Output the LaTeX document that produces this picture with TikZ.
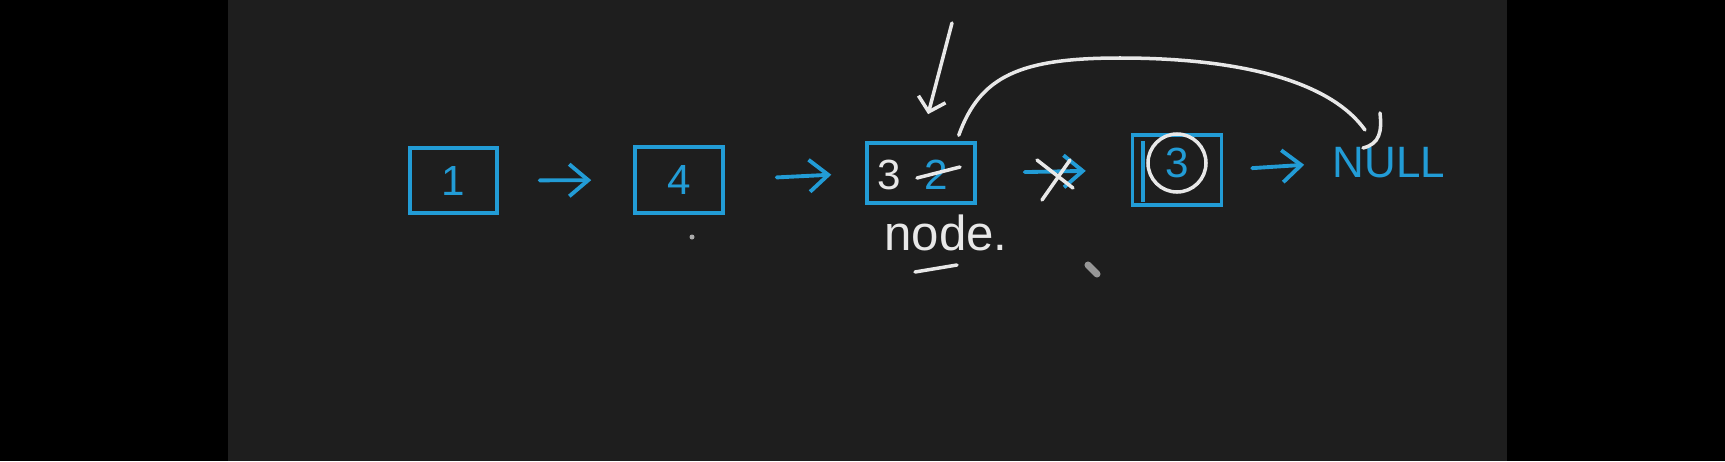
\documentclass[tikz,border=0pt]{standalone}
\usepackage{fontspec}
\setmainfont{Liberation Sans}
\usepackage{tikz}
\usetikzlibrary{arrows.meta}
\usetikzlibrary{positioning}
\usetikzlibrary{calc}

\definecolor{inkblue}{RGB}{34,156,214}
\definecolor{inkwhite}{RGB}{232,232,232}
\definecolor{board}{RGB}{30,30,30}

\tikzset{
  cell/.style={draw=inkblue, line width=1pt, rectangle, inner sep=0pt},
  val/.style={text=inkblue, font=\fontsize{12}{14}\selectfont},
  link/.style={draw=inkblue, line width=1.1pt, line cap=round,
    -{Straight Barb[length=1.9mm,width=3.2mm,line width=1.1pt]}},
  chalk/.style={draw=inkwhite, line width=1pt, line cap=round},
}

\begin{document}
\begin{tikzpicture}
\useasboundingbox (0,0) rectangle (17.25,4.61);
\fill[black] (0,0) rectangle (17.25,4.61);
\fill[board] (2.28,0) rectangle (15.07,4.61);

\node[cell, minimum width=0.87cm, minimum height=0.65cm] (b1) at (4.535,2.805) {};
\node[cell, minimum width=0.88cm, minimum height=0.66cm] (b4) at (6.79,2.81) {};
\node[cell, minimum width=1.08cm, minimum height=0.60cm] (b3) at (9.21,2.88) {};
\node[cell, minimum width=0.89cm, minimum height=0.70cm] (b5) at (11.77,2.91) {};

\node[val] (v1) at (b1) {1};
\node[val] (v4) at (b4) {4};
\node[val, text=inkwhite] (v3) at (8.89,2.86) {3};
\node[val] (v2) at (9.36,2.86) {2};
\node[circle, chalk, minimum size=0.58cm, inner sep=0pt] (c3) at ([yshift=0.7mm]b5.center) {};
\node[val] (v5) at (c3) {3};
\node[val, font=\fontsize{12.5}{14}\selectfont, inner sep=0pt] (null) at (13.89,2.98) {NULL};
\node[text=inkwhite, font=\fontsize{14}{16}\selectfont] (lbl) at (9.46,2.28) {node.};

\draw[link, shorten <=4.1mm, shorten >=4.2mm] (b1.east) -- (b4.west);
\draw[link, shorten <=5.2mm, shorten >=3.4mm] (b4.east) -- (b3.west);
\draw[link, shorten <=4.8mm, shorten >=4.5mm] (b3.east) -- (b5.west);
\draw[link, shorten <=2.9mm, shorten >=2.8mm] (b5.east) -- (null.west);

\draw[cell] ([xshift=1.25mm,yshift=-0.8mm]b5.north west) -- ([xshift=1.25mm,yshift=0.5mm]b5.south west);

\draw[chalk] (9.17,2.83) -- (9.60,2.94);
\draw[chalk] (10.37,3.01) -- (10.73,2.73);
\draw[chalk] (10.42,2.61) -- (10.70,3.01);
\draw[chalk] (9.15,1.89) -- (9.57,1.96);

\coordinate (ptr) at (9.52,4.38);
\draw[chalk, shorten >=2.8mm, -{Straight Barb[length=1.3mm,width=2.8mm,line width=1pt]}] (ptr) -- (b3.north);

\draw[chalk] ($(b3.north east)+(-0.18,0.06)$) .. controls (9.8,3.85) and (10.2,4.03) .. (11.2,4.03)
  .. controls (12.4,4.03) and (13.3,3.8) .. ($(null.north)+(-0.24,0.17)$);
\draw[chalk] ($(null.north)+(-0.09,0.34)$) .. controls ($(null.north)+(-0.07,0.16)$) and ($(null.north)+(-0.09,0.03)$) .. ($(null.north)+(-0.26,-0.01)$);

\fill[inkwhite!70!board] (6.92,2.24) circle (0.025);
\draw[inkwhite!60!board, line width=2pt, line cap=round] (10.88,1.96) -- (10.97,1.87);
\end{tikzpicture}
\end{document}
